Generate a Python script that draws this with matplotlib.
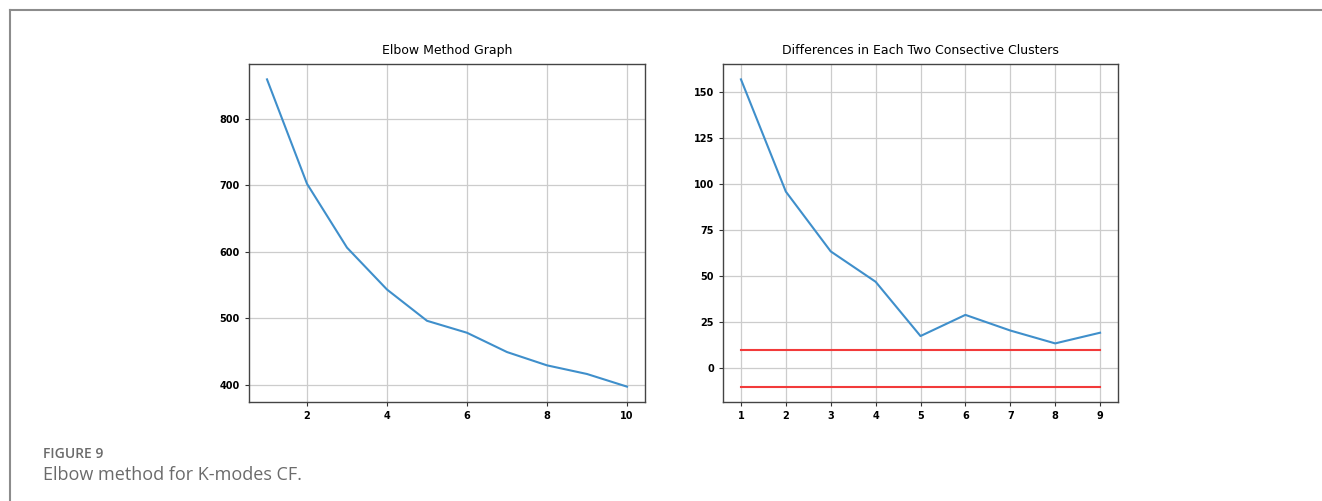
import matplotlib.pyplot as plt
from matplotlib.lines import Line2D
import numpy as np

# elbow curve (cost per k)
k = [1, 2, 3, 4, 5, 6, 7, 8, 9, 10]
cost = [859, 702, 606, 543, 496, 478, 449, 429, 416, 397]

# differences between consecutive k
k_diff = [1, 2, 3, 4, 5, 6, 7, 8, 9]
diff = [157, 96, 63.5, 47, 17.5, 29, 20.5, 13.5, 19.3]
thresh = [10, -10]

blue = "#3f8fcb"
red = "#f23a3a"

fig = plt.figure(figsize=(13.22, 5.01), dpi=100)

ax1 = fig.add_axes([249/1322, 1-402/501, 396/1322, 338/501])
ax2 = fig.add_axes([723/1322, 1-402/501, 395/1322, 338/501])

ax1.plot(k, cost, color=blue, lw=1.5)
ax1.set_title("Elbow Method Graph", fontsize=9, pad=7)
ax1.set_xticks([2, 4, 6, 8, 10])

ax2.plot(k_diff, diff, color=blue, lw=1.5)
for t in thresh:
    ax2.plot([k_diff[0], k_diff[-1]], [t, t], color=red, lw=1.5)
ax2.set_title("Differences in Each Two Consective Clusters", fontsize=9, pad=7)
ax2.set_xticks(k_diff)
ax2.set_yticks([0, 25, 50, 75, 100, 125, 150])

for ax in (ax1, ax2):
    ax.grid(True, color="#cccccc", lw=0.9)
    ax.set_axisbelow(True)
    ax.tick_params(labelsize=7, length=3, color="#333333")
    for lab in ax.get_xticklabels() + ax.get_yticklabels():
        lab.set_fontweight("bold")
    for s in ax.spines.values():
        s.set_color("#444444")
        s.set_linewidth(1)

# frame around the figure
fig.add_artist(Line2D([9.5/1322, 1], [1-9.5/501, 1-9.5/501], color="#8c8c8c", lw=1.5))
fig.add_artist(Line2D([9.5/1322, 9.5/1322], [0, 1-9.5/501], color="#8c8c8c", lw=1.5))

fig.text(43/1322, 1-458/501, "FIGURE 9", fontsize=10, color="#6b6b6b",
         family="Open Sans", fontweight="semibold")
fig.text(43/1322, 1-480/501, "Elbow method for K-modes CF.", fontsize=13,
         color="#6b6b6b", family="Open Sans")

fig.savefig("out.png", dpi=100)
